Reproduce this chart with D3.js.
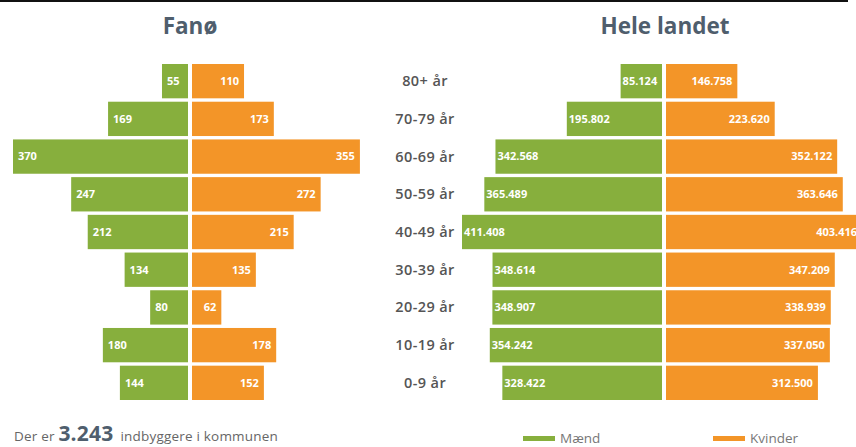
<!DOCTYPE html>
<html>
<head>
<meta charset="utf-8">
<script src="https://cdn.jsdelivr.net/npm/d3@7"></script>
<style>
  body { margin: 0; background: #fff; }
  svg { display: block; font-family: "Open Sans", "Noto Sans", sans-serif; }
</style>
</head>
<body>
<svg id="chart"></svg>
<script>
// aldersgrupper, fra ældst til yngst
const ages = ["80+ år", "70-79 år", "60-69 år", "50-59 år", "40-49 år", "30-39 år", "20-29 år", "10-19 år", "0-9 år"];
const fanoMaend = [55, 169, 370, 247, 212, 134, 80, 180, 144];
const fanoKvinder = [110, 173, 355, 272, 215, 135, 62, 178, 152];
const landMaend = [85124, 195802, 342568, 365489, 411408, 348614, 348907, 354242, 328422];
const landKvinder = [146758, 223620, 352122, 363646, 403416, 347209, 338939, 337050, 312500];
const totalFano = 3243;

const green = "#87af3d", orange = "#f39528";
const fmt = d3.format(",d");
const dk = v => fmt(v).replace(/,/g, ".");

const svg = d3.select("#chart").attr("width", 856).attr("height", 447);

// sort streg i toppen
svg.append("rect").attr("x", 0).attr("y", 0).attr("width", 848).attr("height", 2).attr("fill", "#111");

const y = d3.scaleBand().domain(ages).range([64, 400]).paddingInner(0.09);

// tegn en pyramide
function pyramid(opts) {
  let g = svg.append("g");
  let xm = d3.scaleLinear().domain([0, opts.max]).range([0, opts.width]);

  g.append("text")
    .attr("x", opts.center).attr("y", 34)
    .attr("text-anchor", "middle")
    .attr("font-size", 22.5).attr("font-weight", 700)
    .attr("fill", "#4f5e6d")
    .text(opts.title);

  g.selectAll(".m").data(opts.m).join("rect")
    .attr("x", d => opts.leftEdge - xm(d))
    .attr("y", (d, i) => y(ages[i]))
    .attr("width", d => xm(d))
    .attr("height", y.bandwidth())
    .attr("fill", green);

  g.selectAll(".k").data(opts.k).join("rect")
    .attr("x", opts.rightEdge)
    .attr("y", (d, i) => y(ages[i]))
    .attr("width", d => xm(d))
    .attr("height", y.bandwidth())
    .attr("fill", orange);

  g.selectAll(".ml").data(opts.m).join("text")
    .attr("x", d => opts.leftEdge - xm(d) + opts.pad)
    .attr("y", (d, i) => y(ages[i]) + y.bandwidth() / 2)
    .attr("dy", "0.35em")
    .attr("font-size", 11).attr("font-weight", 700)
    .attr("fill", "#fff")
    .text(d => dk(d));

  g.selectAll(".kl").data(opts.k).join("text")
    .attr("x", d => opts.rightEdge + xm(d) - 5)
    .attr("y", (d, i) => y(ages[i]) + y.bandwidth() / 2)
    .attr("dy", "0.35em")
    .attr("text-anchor", "end")
    .attr("font-size", 11).attr("font-weight", 700)
    .attr("fill", "#fff")
    .text(d => dk(d));
}

pyramid({ title: "Fanø", center: 190, m: fanoMaend, k: fanoKvinder, max: 370, width: 175, leftEdge: 188, rightEdge: 192, pad: 5 });
pyramid({ title: "Hele landet", center: 665, m: landMaend, k: landKvinder, max: 411408, width: 200, leftEdge: 662, rightEdge: 666, pad: 2 });

// alderslabels i midten
svg.selectAll(".age").data(ages).join("text")
  .attr("x", 425)
  .attr("y", d => y(d) + y.bandwidth() / 2)
  .attr("dy", "0.35em")
  .attr("text-anchor", "middle")
  .attr("font-size", 14.5).attr("font-weight", 600)
  .attr("letter-spacing", 0.4)
  .attr("fill", "#555")
  .text(d => d);

// tekst i bunden
let foot = svg.append("text").attr("x", 14).attr("y", 441).attr("fill", "#666")
  .attr("font-size", 13.5).attr("letter-spacing", 0.2);
foot.append("tspan").text("Der er ");
foot.append("tspan").attr("font-size", 21).attr("font-weight", 700).attr("fill", "#4f5e6d").text(dk(totalFano));
foot.append("tspan").attr("dx", 7).text("indbyggere i kommunen");

// legende
const legend = [{ name: "Mænd", color: green, x: 523 }, { name: "Kvinder", color: orange, x: 713 }];
let lg = svg.selectAll(".lg").data(legend).join("g");
lg.append("rect").attr("x", d => d.x).attr("y", 436).attr("width", 32).attr("height", 5).attr("fill", d => d.color);
lg.append("text").attr("x", d => d.x + 37).attr("y", 443)
  .attr("font-size", 13.5).attr("fill", "#777").text(d => d.name);
</script>
</body>
</html>
